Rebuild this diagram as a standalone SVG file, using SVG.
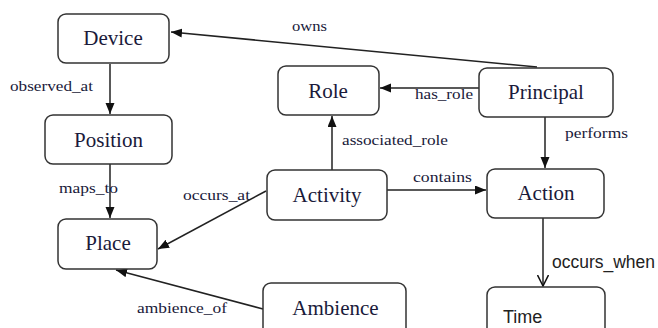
<svg xmlns="http://www.w3.org/2000/svg" width="658" height="328" viewBox="0 0 658 328">
<style>
.node rect{fill:#fff;stroke:#333;stroke-width:1.5}
.nl{font-family:"Liberation Serif","Times New Roman",serif;font-size:21px;fill:#1a1a3a;text-anchor:middle}
.sl{font-family:"Liberation Sans",Arial,sans-serif;fill:#222}
.el{font-family:"Liberation Serif","Times New Roman",serif;font-size:15px;fill:#1a1a3a}
.edge{stroke:#222;stroke-width:1.5;fill:none}
</style>
<defs>
<marker id="ah" markerUnits="userSpaceOnUse" markerWidth="12" markerHeight="10" refX="11" refY="4.5" orient="auto">
<path d="M0,0 L11,4.5 L0,9 z" fill="#111"/>
</marker>
<marker id="av" markerUnits="userSpaceOnUse" markerWidth="12" markerHeight="12" refX="11" refY="6" orient="auto">
<path d="M0,0.5 L11,6 L0,11.5" fill="none" stroke="#111" stroke-width="1.5"/>
</marker>
</defs>
<rect width="658" height="328" fill="#fff"/>
<g id="edges">
<path class="edge" d="M537,67 L171,32" marker-end="url(#ah)"/>
<path class="edge" d="M110,64 L110,114" marker-end="url(#ah)"/>
<path class="edge" d="M479,88 L380,88" marker-end="url(#ah)"/>
<path class="edge" d="M545,117 L545,168" marker-end="url(#ah)"/>
<path class="edge" d="M332,170 L332,116" marker-end="url(#ah)"/>
<path class="edge" d="M387,190 L486,190" marker-end="url(#ah)"/>
<path class="edge" d="M110,164 L110,218" marker-end="url(#ah)"/>
<path class="edge" d="M266,191 L158,249" marker-end="url(#ah)"/>
<path class="edge" d="M263,309 L116,270" marker-end="url(#ah)"/>
<path class="edge" d="M543,218 L543,286" marker-end="url(#av)"/>
<text class="el" x="292" y="31" textLength="35" lengthAdjust="spacingAndGlyphs">owns</text>
<text class="el" x="10" y="91" textLength="83" lengthAdjust="spacingAndGlyphs">observed_at</text>
<text class="el" x="415" y="99" textLength="58" lengthAdjust="spacingAndGlyphs">has_role</text>
<text class="el" x="565" y="138" textLength="63" lengthAdjust="spacingAndGlyphs">performs</text>
<text class="el" x="342" y="145" textLength="106" lengthAdjust="spacingAndGlyphs">associated_role</text>
<text class="el" x="413" y="182" textLength="59" lengthAdjust="spacingAndGlyphs">contains</text>
<text class="el" x="59" y="193" textLength="59" lengthAdjust="spacingAndGlyphs">maps_to</text>
<text class="el" x="183" y="200" textLength="67" lengthAdjust="spacingAndGlyphs">occurs_at</text>
<text class="el" x="137" y="313" textLength="90" lengthAdjust="spacingAndGlyphs">ambience_of</text>
<text class="sl" x="552" y="268" font-size="17.5" textLength="103" lengthAdjust="spacingAndGlyphs">occurs_when</text>
</g>
<g id="device" class="node"><rect x="58" y="14" width="111" height="49" rx="8"/><text class="nl" x="113" y="45">Device</text></g>
<g id="position" class="node"><rect x="45" y="115" width="127" height="49" rx="8"/><text class="nl" x="108.5" y="147">Position</text></g>
<g id="role" class="node"><rect x="278" y="66" width="101" height="49" rx="8"/><text class="nl" x="328" y="98">Role</text></g>
<g id="principal" class="node"><rect x="479" y="68" width="134" height="49" rx="8"/><text class="nl" x="546" y="99">Principal</text></g>
<g id="activity" class="node"><rect x="267" y="170" width="120" height="50" rx="8"/><text class="nl" x="327" y="202">Activity</text></g>
<g id="action" class="node"><rect x="487" y="169" width="117" height="49" rx="8"/><text class="nl" x="546" y="200">Action</text></g>
<g id="place" class="node"><rect x="58" y="219" width="99" height="50" rx="8"/><text class="nl" x="108" y="250">Place</text></g>
<g id="ambience" class="node"><rect x="263" y="283" width="143" height="60" rx="8"/><text class="nl" x="335.5" y="315">Ambience</text></g>
<g id="time" class="node"><rect x="487" y="287" width="118" height="60" rx="8"/><text class="sl" x="503" y="323" font-size="18">Time</text></g>
</svg>
